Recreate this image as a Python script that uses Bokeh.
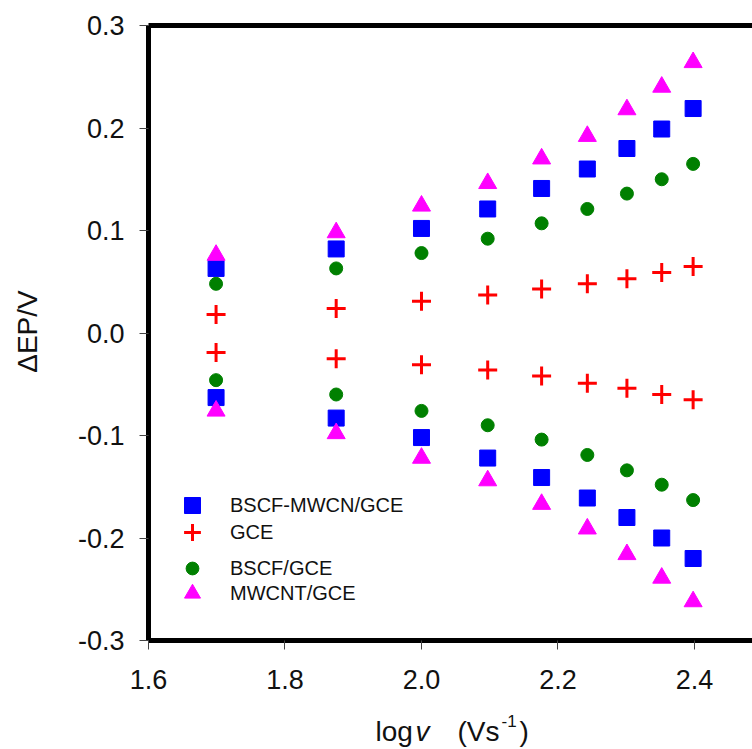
import math
from bokeh.plotting import figure
from bokeh.models import (ColumnDataSource, Range1d, LinearAxis, FixedTicker,
                          PrintfTickFormatter, Legend, LegendItem, Label)
from bokeh.embed import file_html
from bokeh.resources import INLINE

# ---- data ----
log_v = [1.699, 1.875, 2.000, 2.097, 2.176, 2.243, 2.301, 2.352, 2.398]

bscf_mwcn_ox = [0.063, 0.082, 0.102, 0.121, 0.141, 0.160, 0.180, 0.199, 0.219]
bscf_mwcn_red = [-0.063, -0.083, -0.102, -0.122, -0.141, -0.161, -0.180, -0.200, -0.220]

gce_ox = [0.018, 0.024, 0.031, 0.037, 0.043, 0.048, 0.053, 0.059, 0.065]
gce_red = [-0.019, -0.025, -0.031, -0.036, -0.042, -0.049, -0.054, -0.060, -0.065]

bscf_ox = [0.048, 0.063, 0.078, 0.092, 0.107, 0.121, 0.136, 0.150, 0.165]
bscf_red = [-0.046, -0.060, -0.076, -0.090, -0.104, -0.119, -0.134, -0.148, -0.163]

mwcnt_ox = [0.076, 0.098, 0.124, 0.146, 0.170, 0.192, 0.218, 0.240, 0.264]
mwcnt_red = [-0.076, -0.098, -0.122, -0.144, -0.167, -0.191, -0.216, -0.239, -0.262]

series_labels = ["BSCF-MWCN/GCE", "GCE", "BSCF/GCE", "MWCNT/GCE"]
x_ticks = [1.6, 1.8, 2.0, 2.2, 2.4]
y_ticks = [-0.3, -0.2, -0.1, 0.0, 0.1, 0.2, 0.3]
x_lo, x_hi = 1.6, 2.485
y_lo, y_hi = -0.3, 0.3
y_title = "ΔEP/V"
x_title_parts = ["log", "v", "(Vs", "-1", ")"]

FONT = "Liberation Sans"
TXT = "#111111"
W, H = 752, 749
# plot box in page pixels
BOX_L, BOX_T, BOX_B = 148, 25, 640

# the frame covers the whole page; axes sit at fixed data locations
ppx = (W - BOX_L) / (x_hi - x_lo)
ppy = (BOX_B - BOX_T) / (y_hi - y_lo)
p = figure(width=W, height=H, output_backend="svg", toolbar_location=None,
           x_range=Range1d(x_lo - BOX_L / ppx, x_hi),
           y_range=Range1d(y_lo - (H - BOX_B) / ppy, y_hi + BOX_T / ppy),
           min_border=0, x_axis_location=None, y_axis_location=None)
p.outline_line_color = None
p.xgrid.visible = False
p.ygrid.visible = False
p.background_fill_color = "white"
p.border_fill_color = "white"


def style_axis(ax, ticks):
    ax.ticker = FixedTicker(ticks=ticks)
    ax.formatter = PrintfTickFormatter(format="%.1f")
    ax.axis_line_width = 5
    ax.axis_line_color = "black"
    ax.major_tick_out = 9
    ax.major_tick_in = 0
    ax.major_tick_line_color = "#444444"
    ax.major_tick_line_width = 1
    ax.minor_tick_line_color = None
    ax.major_label_text_font = FONT
    ax.major_label_text_font_size = "27px"
    ax.major_label_text_color = TXT


yax = LinearAxis(fixed_location=x_lo, bounds=(y_lo, y_hi))
style_axis(yax, y_ticks)
yax.major_label_standoff = 15
p.add_layout(yax, "left")

xax = LinearAxis(fixed_location=y_lo, bounds=(x_lo, x_hi))
style_axis(xax, x_ticks)
xax.major_label_standoff = 20
p.add_layout(xax, "below")

top = LinearAxis(fixed_location=y_hi, bounds=(x_lo, x_hi))
top.ticker = FixedTicker(ticks=[])
top.axis_line_width = 5
top.axis_line_color = "black"
top.major_tick_line_color = None
top.minor_tick_line_color = None
p.add_layout(top, "above")

# ---- series ----
def src(ox, red):
    return ColumnDataSource(dict(x=log_v + log_v, y=ox + red))

r_blue = p.scatter("x", "y", source=src(bscf_mwcn_ox, bscf_mwcn_red), marker="square",
                   size=16, fill_color="#0000FF", line_color="#0000FF", line_width=1)
r_red = p.scatter("x", "y", source=src(gce_ox, gce_red), marker="cross",
                  size=19, line_color="#FF0000", line_width=3)
r_green = p.scatter("x", "y", source=src(bscf_ox, bscf_red), marker="circle",
                    size=13, fill_color="#008000", line_color="#008000", line_width=1)
r_mag = p.scatter("x", "y", source=src(mwcnt_ox, mwcnt_red), marker="triangle",
                  size=18, fill_color="#FF00FF", line_color="#FF00FF", line_width=1)

# ---- legend: one block per entry so rows sit as in the reference ----
# (renderer, row centre in page px, glyph box size -> marker drawn at 0.4 x box)
legend_rows = [(r_blue, 505, 40), (r_red, 532, 42), (r_green, 568, 32), (r_mag, 593, 40)]
for (rend, yc, gb), lab in zip(legend_rows, series_labels):
    lg = Legend(items=[LegendItem(label=lab, renderers=[rend])],
                location=(192 - gb / 2, H - (yc + gb / 2)),
                padding=0, margin=0, spacing=0,
                glyph_width=gb, glyph_height=gb, label_height=gb,
                label_standoff=int(230 - (192 + gb / 2)), border_line_color=None,
                background_fill_alpha=0, label_text_font=FONT,
                label_text_font_size="20px", label_text_color=TXT)
    p.add_layout(lg, "center")

# ---- axis titles ----
p.add_layout(Label(x=27, y=H - 331, x_units="screen", y_units="screen", text=y_title,
                   angle=math.pi / 2, text_align="center", text_baseline="middle",
                   text_font=FONT, text_font_size="28px", text_color=TXT))

title_x = [375, 415, 457, 501, 519]
title_base = [731, 731, 731, 720, 731]
title_style = ["normal", "italic", "normal", "normal", "normal"]
title_size = ["28px", "28px", "28px", "17px", "28px"]
for t, xx, yy, st, fs in zip(x_title_parts, title_x, title_base, title_style, title_size):
    p.add_layout(Label(x=xx, y=H - yy, x_units="screen", y_units="screen", text=t,
                       text_align="left", text_baseline="alphabetic",
                       text_font=FONT, text_font_style=st, text_font_size=fs,
                       text_color=TXT))

open("out.html", "w").write(file_html(p, INLINE))
